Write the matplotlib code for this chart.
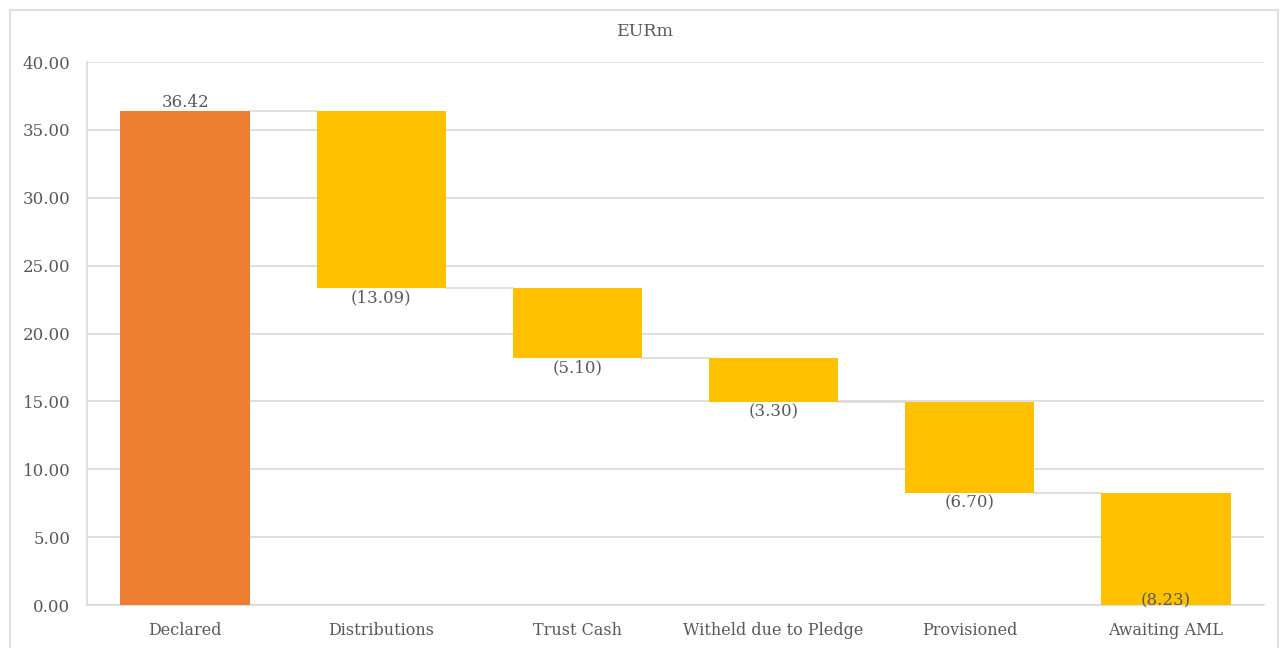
import matplotlib
matplotlib.use("Agg")
from matplotlib import pyplot as plt
from matplotlib.patches import Rectangle

categories = ["Declared", "Distributions", "Trust Cash", "Witheld due to Pledge",
              "Provisioned", "Awaiting AML"]
values = [36.42, -13.09, -5.10, -3.30, -6.70, -8.23]

orange = "#ED7D31"
yellow = "#FFC000"
grey_line = "#D9D9D9"
text_col = "#595959"

plt.rcParams['font.family'] = ['DejaVu Serif']

fig = plt.figure(figsize=(12.8, 6.48), dpi=100)
ax = fig.add_axes([87 / 1280, 1 - 605 / 648, (1264 - 87) / 1280, (605 - 62) / 648])

# outer chart border
fig.patches.append(Rectangle((10 / 1280, -0.01), 1268 / 1280, 1 - 10 / 648 + 0.01,
                             transform=fig.transFigure, fill=False,
                             edgecolor=grey_line, linewidth=1.2))

width = 0.66
running = 0.0
levels = []
for i, v in enumerate(values):
    if i == 0:
        bottom, top = 0.0, v
        color = orange
    else:
        top = running
        bottom = running + v
        color = yellow
    ax.bar(i, top - bottom, bottom=bottom, width=width, color=color, zorder=3)
    running = top if i == 0 else bottom
    levels.append(running)

    if v >= 0:
        ax.annotate("{:.2f}".format(v), (i, top), xytext=(0, 0), textcoords="offset points",
                    ha="center", va="bottom", fontsize=12, color=text_col, zorder=5)
    elif bottom > 0.5:
        ax.annotate("({:.2f})".format(-v), (i, bottom), xytext=(0, -1), textcoords="offset points",
                    ha="center", va="top", fontsize=12, color=text_col, zorder=5)
    else:
        ax.annotate("({:.2f})".format(-v), (i, 0), xytext=(0, -3), textcoords="offset points",
                    ha="center", va="bottom", fontsize=12, color=text_col, zorder=5)

# connector lines
for i in range(len(values) - 1):
    ax.plot([i + width / 2, i + 1 - width / 2], [levels[i], levels[i]],
            color=grey_line, linewidth=1.2, zorder=2)

ax.set_xlim(-0.5, len(values) - 0.5)
ax.set_ylim(0, 40)
ax.set_yticks(range(0, 41, 5))
ax.set_yticklabels(["{:.2f}".format(t) for t in range(0, 41, 5)])
ax.set_xticks(range(len(categories)))
ax.set_xticklabels(categories)
ax.tick_params(axis="y", length=0, pad=12, labelsize=12, labelcolor=text_col)
ax.tick_params(axis="x", length=0, pad=12, labelsize=11.5, labelcolor=text_col)
ax.grid(axis="y", color=grey_line, linewidth=1.2, zorder=0)
ax.set_axisbelow(True)
for s in ["top", "right"]:
    ax.spines[s].set_visible(False)
for s in ["left", "bottom"]:
    ax.spines[s].set_color(grey_line)
    ax.spines[s].set_linewidth(1.2)

fig.text(645 / 1280, 1 - 32 / 648, "EURm", ha="center", va="center",
         fontsize=12.5, color=text_col)

fig.savefig("out.png", dpi=100)
